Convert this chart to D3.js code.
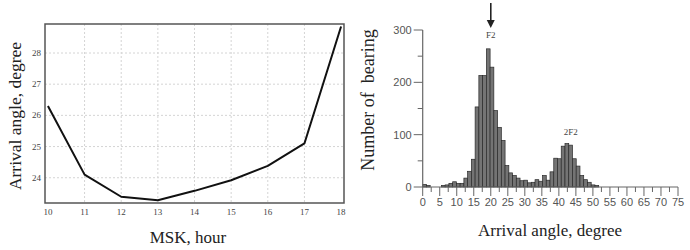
<!DOCTYPE html>
<html><head><meta charset="utf-8">
<script src="https://cdn.jsdelivr.net/npm/d3@7"></script>
<style>
html,body{margin:0;padding:0;background:#fff;}
svg{display:block;}
</style></head>
<body>
<svg id="c" width="690" height="250"></svg>
<script>
// ---- Left panel data ----
const hours = [10, 11, 12, 13, 14, 15, 16, 17, 18];
const arrivalAngle = [26.3, 24.1, 23.39, 23.28, 23.58, 23.92, 24.38, 25.1, 28.85];
const hourTicks = [10, 11, 12, 13, 14, 15, 16, 17, 18];
const angleTicks = [24, 25, 26, 27, 28];

// ---- Right panel data (histogram) ----
const binWidth = 1.1; // degrees per bin, bins start at 0
const bearingCounts = [5, 3, 0, 0, 0, 3, 4, 7, 10, 7, 7, 17, 30, 53, 153, 213, 213, 264, 229, 146,
  114, 89, 41, 27, 22, 17, 12, 13, 8, 9, 14, 11, 22, 13, 29, 55, 54, 78, 83, 80, 54, 40, 22, 14, 9, 4, 3];
const angleTicksR = [0, 5, 10, 15, 20, 25, 30, 35, 40, 45, 50, 55, 60, 65, 70, 75];
const countTicks = [0, 100, 200, 300];
const countMinorTicks = [50, 150, 250];
const peakLabels = [{label: "F2", angle: 20, count: 285}, {label: "2F2", angle: 43.5, count: 100}];

const svg = d3.select("#c");
const serif = "'Liberation Serif','Times New Roman',serif";
const sans = "'Liberation Sans',Arial,sans-serif";

// ===== Left panel =====
const xL = d3.scaleLinear().domain([9.92, 18.08]).range([45, 344]);
const yL = d3.scaleLinear().domain([23.19, 28.93]).range([203, 24]);
const L = svg.append("g");

// grid
L.append("g").selectAll("line").data(hourTicks.slice(1, -1)).join("line")
  .attr("x1", d => xL(d)).attr("x2", d => xL(d))
  .attr("y1", yL.range()[1]).attr("y2", yL.range()[0])
  .attr("stroke", "#d4d4d4").attr("stroke-width", 1).attr("stroke-dasharray", "2,2");
L.append("g").selectAll("line").data(angleTicks).join("line")
  .attr("y1", d => yL(d)).attr("y2", d => yL(d))
  .attr("x1", xL.range()[0]).attr("x2", xL.range()[1])
  .attr("stroke", "#d4d4d4").attr("stroke-width", 1).attr("stroke-dasharray", "2,2");

// line
L.append("path").datum(hours.map((h, i) => [h, arrivalAngle[i]]))
  .attr("fill", "none").attr("stroke", "#111").attr("stroke-width", 2)
  .attr("stroke-linejoin", "round")
  .attr("d", d3.line().x(d => xL(d[0])).y(d => yL(d[1])));

// frame
L.append("rect").attr("x", xL.range()[0]).attr("y", yL.range()[1])
  .attr("width", xL.range()[1] - xL.range()[0]).attr("height", yL.range()[0] - yL.range()[1])
  .attr("fill", "none").attr("stroke", "#555").attr("stroke-width", 1.5);

// tick labels
L.append("g").selectAll("text").data(hourTicks).join("text")
  .attr("x", d => xL(d)).attr("y", 215).attr("text-anchor", "middle")
  .attr("font-family", serif).attr("font-size", 9).attr("fill", "#444").text(d => d);
L.append("g").selectAll("text").data(angleTicks).join("text")
  .attr("x", 41).attr("y", d => yL(d) + 3).attr("text-anchor", "end")
  .attr("font-family", serif).attr("font-size", 9).attr("fill", "#444").text(d => d);

// titles
L.append("text").attr("x", 188).attr("y", 243).attr("text-anchor", "middle")
  .attr("font-family", serif).attr("font-size", 17).attr("fill", "#222").text("MSK, hour");
L.append("text").attr("transform", "translate(21,116) rotate(-90)").attr("text-anchor", "middle")
  .attr("font-family", serif).attr("font-size", 17.5).attr("fill", "#222").text("Arrival angle, degree");

// ===== Right panel =====
const xR = d3.scaleLinear().domain([0, 75]).range([422.7, 678]);
const yR = d3.scaleLinear().domain([0, 300]).range([187, 30]);
const R = svg.append("g");

// bars
R.append("g").selectAll("rect").data(bearingCounts).join("rect")
  .attr("x", (d, i) => xR(i * binWidth))
  .attr("width", (d, i) => xR((i + 1) * binWidth) - xR(i * binWidth))
  .attr("y", d => yR(d)).attr("height", d => yR(0) - yR(d))
  .attr("fill", "#747474").attr("stroke", "#2a2a2a").attr("stroke-width", 0.7);

// x axis
const axC = "#666";
R.append("line").attr("x1", xR(0)).attr("x2", xR(75)).attr("y1", yR(0)).attr("y2", yR(0))
  .attr("stroke", axC).attr("stroke-width", 1.2);
R.append("g").selectAll("line").data(angleTicksR).join("line")
  .attr("x1", d => xR(d)).attr("x2", d => xR(d)).attr("y1", yR(0)).attr("y2", yR(0) + 9)
  .attr("stroke", axC).attr("stroke-width", 1);
R.append("g").selectAll("line").data(angleTicksR.slice(0, -1).map(d => d + 2.5)).join("line")
  .attr("x1", d => xR(d)).attr("x2", d => xR(d)).attr("y1", yR(0)).attr("y2", yR(0) + 5)
  .attr("stroke", axC).attr("stroke-width", 1);
R.append("g").selectAll("text").data(angleTicksR).join("text")
  .attr("x", d => xR(d)).attr("y", 206).attr("text-anchor", "middle")
  .attr("font-family", sans).attr("font-size", 11).attr("fill", "#555").text(d => d);

// y axis
R.append("line").attr("x1", xR(0)).attr("x2", xR(0)).attr("y1", yR(300)).attr("y2", yR(0))
  .attr("stroke", axC).attr("stroke-width", 1.2);
R.append("g").selectAll("line").data(countTicks).join("line")
  .attr("x1", xR(0) - 9).attr("x2", xR(0)).attr("y1", d => yR(d)).attr("y2", d => yR(d))
  .attr("stroke", axC).attr("stroke-width", 1);
R.append("g").selectAll("line").data(countMinorTicks).join("line")
  .attr("x1", xR(0) - 5).attr("x2", xR(0)).attr("y1", d => yR(d)).attr("y2", d => yR(d))
  .attr("stroke", axC).attr("stroke-width", 1);
R.append("g").selectAll("text").data(countTicks).join("text")
  .attr("x", xR(0) - 11).attr("y", d => yR(d) + 4).attr("text-anchor", "end")
  .attr("font-family", sans).attr("font-size", 11).attr("fill", "#555").text(d => d);

// peak labels
R.append("g").selectAll("text").data(peakLabels).join("text")
  .attr("x", d => xR(d.angle)).attr("y", d => yR(d.count)).attr("text-anchor", "middle")
  .attr("font-family", serif).attr("font-size", 9).attr("fill", "#444").text(d => d.label);

// arrow at F2
const ax = xR(peakLabels[0].angle);
R.append("line").attr("x1", ax).attr("x2", ax).attr("y1", 3).attr("y2", 22)
  .attr("stroke", "#222").attr("stroke-width", 1.6);
R.append("path").attr("d", `M${ax - 4},${20} L${ax + 4},${20} L${ax},${28} Z`).attr("fill", "#222");

// titles
R.append("text").attr("x", 550).attr("y", 236).attr("text-anchor", "middle")
  .attr("font-family", serif).attr("font-size", 17).attr("fill", "#222").text("Arrival angle, degree");
R.append("text").attr("transform", "translate(374,100) rotate(-90)").attr("text-anchor", "middle")
  .attr("font-family", serif).attr("font-size", 18).attr("fill", "#222")
  .style("white-space", "pre").text("Number of  bearing");
</script>
</body></html>
